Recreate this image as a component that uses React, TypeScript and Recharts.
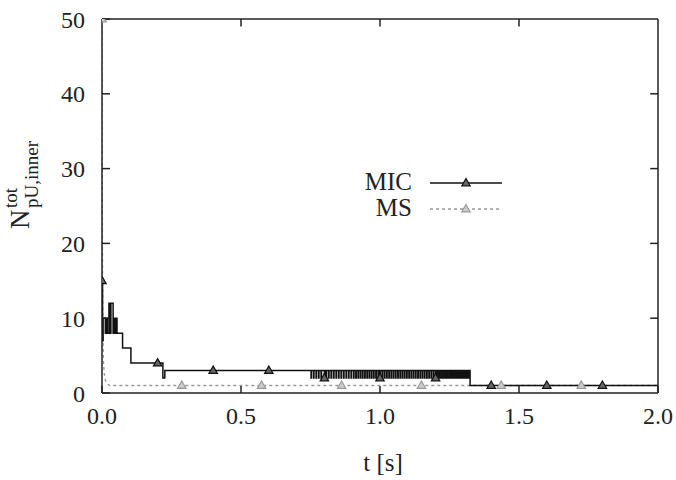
import { LineChart, Line, XAxis, YAxis, ReferenceLine } from 'recharts';

const FONT = '"Liberation Serif", "Times New Roman", serif';

// MIC: step changes (time in s, count)
const micT = [0, 0.002, 0.004, 0.012, 0.016, 0.019, 0.025, 0.03, 0.032, 0.04, 0.042, 0.047, 0.049, 0.054, 0.074, 0.104, 0.2, 0.219, 0.226, 0.4, 0.6, 0.748, 1.324, 1.4, 1.6, 1.8, 2.0];
const micN = [15, 7, 10, 8, 10, 8, 12, 8, 12, 8, 10, 8, 10, 8, 6, 4, 4, 2, 3, 3, 3, 3, 1, 1, 1, 1, 1];

// MIC: short drops from 3 to 2 between 0.75 s and 1.32 s
const micDips = [
  0.752, 0.761, 0.77, 0.779, 0.788, 0.8, 0.806, 0.815, 0.824, 0.833, 0.842, 0.851, 0.86, 0.869, 0.878,
  0.887, 0.896, 0.905, 0.913, 0.921, 0.929, 0.937, 0.945, 0.953, 0.961, 0.969, 0.977, 0.985, 0.993, 1.0,
  1.008, 1.016, 1.024, 1.032, 1.04, 1.048, 1.056, 1.064, 1.072, 1.08, 1.088, 1.096, 1.104, 1.112, 1.12,
  1.128, 1.136, 1.144, 1.152, 1.16, 1.168, 1.176, 1.184, 1.192, 1.2, 1.207, 1.214, 1.221, 1.228, 1.235,
  1.242, 1.249, 1.255, 1.261, 1.267, 1.273, 1.279, 1.284, 1.289, 1.294, 1.299, 1.304, 1.309, 1.314, 1.319,
];
const DIP_LOW = 2;
const DIP_HIGH = 3;
const DIP_W = 0.0015;
const micMarks = [0, 0.2, 0.4, 0.6, 0.8, 1.0, 1.2, 1.4, 1.6, 1.8];

// MS
const msT = [0, 0.0015, 0.003, 0.005, 0.008, 0.012, 0.018, 0.028, 0.287, 0.574, 0.862, 1.149, 1.436, 1.724, 2.0];
const msN = [50, 20, 9, 4.5, 2.6, 1.7, 1.25, 1, 1, 1, 1, 1, 1, 1, 1];
const msMarks = [0, 0.287, 0.574, 0.862, 1.149, 1.436, 1.724];

const xTicks = [0, 0.5, 1.0, 1.5, 2.0];
const yTicks = [0, 10, 20, 30, 40, 50];
const xInner = [0.5, 1.0, 1.5];
const yInner = [10, 20, 30, 40];

// inward tick length in data units (~8px)
const TICK_X = 0.028;
const TICK_Y = 1.0;

type Pt = { t: number; n: number; mark?: boolean };

function buildMic(): Pt[] {
  const pts: Pt[] = micT.map((t, i) => ({ t, n: micN[i] }));
  micDips.forEach((t) => {
    pts.push({ t, n: DIP_LOW });
    pts.push({ t: t + DIP_W, n: DIP_HIGH });
  });
  pts.sort((a, b) => a.t - b.t);
  return pts.map((p) => ({ ...p, mark: micMarks.some((m) => Math.abs(m - p.t) < 1e-9) }));
}

function buildMs(): Pt[] {
  return msT.map((t, i) => ({ t, n: msN[i], mark: msMarks.includes(t) }));
}

const micData = buildMic();
const msData = buildMs();

function Tri({ cx, cy, fill, stroke }: { cx: number; cy: number; fill: string; stroke: string }) {
  return (
    <path
      d={`M${cx},${cy - 4.5} L${cx + 4.2},${cy + 2.8} L${cx - 4.2},${cy + 2.8} Z`}
      fill={fill}
      stroke={stroke}
      strokeWidth={1.2}
    />
  );
}

const micDot = (props: any) =>
  props.payload && props.payload.mark ? (
    <Tri key={`mic-${props.index}`} cx={props.cx} cy={props.cy} fill="#666" stroke="#111" />
  ) : (
    <g key={`mic-${props.index}`} />
  );

const msDot = (props: any) =>
  props.payload && props.payload.mark ? (
    <Tri key={`ms-${props.index}`} cx={props.cx} cy={props.cy} fill="#ccc" stroke="#999" />
  ) : (
    <g key={`ms-${props.index}`} />
  );

const tickStyle = { fontSize: 24, fill: '#222', fontFamily: FONT };
const axisStroke = { stroke: '#222', strokeWidth: 1.5 };

export default function App() {
  return (
    <div style={{ position: 'absolute', left: 0, top: 0, width: 676, height: 480, background: '#fff' }}>
      <LineChart width={676} height={480} margin={{ top: 18, right: 17, bottom: 47, left: 42 }}>
        <XAxis
          xAxisId="b"
          dataKey="t"
          type="number"
          domain={[0, 2]}
          ticks={xTicks}
          tickFormatter={(v: number) => v.toFixed(1)}
          height={40}
          tick={tickStyle}
          tickSize={-7}
          tickMargin={21}
          axisLine={axisStroke}
          tickLine={axisStroke}
          allowDataOverflow
        />
        <XAxis
          xAxisId="top"
          orientation="top"
          type="number"
          domain={[0, 2]}
          ticks={xTicks}
          height={1}
          tick={false}
          tickLine={false}
          axisLine={axisStroke}
          allowDataOverflow
        />
        <YAxis
          yAxisId="l"
          type="number"
          domain={[0, 50]}
          ticks={yTicks}
          width={60}
          tick={tickStyle}
          tickSize={-8}
          tickMargin={25}
          axisLine={axisStroke}
          tickLine={axisStroke}
          allowDataOverflow
        />
        <YAxis
          yAxisId="r"
          orientation="right"
          type="number"
          domain={[0, 50]}
          ticks={yTicks}
          width={1}
          tick={false}
          tickLine={false}
          axisLine={axisStroke}
          allowDataOverflow
        />
        {xInner.map((x) => (
          <ReferenceLine
            key={`xt-${x}`}
            xAxisId="b"
            yAxisId="l"
            segment={[{ x, y: 50 }, { x, y: 50 - TICK_Y }]}
            stroke="#222"
            strokeWidth={1.5}
          />
        ))}
        {yInner.map((y) => (
          <ReferenceLine
            key={`yr-${y}`}
            xAxisId="b"
            yAxisId="l"
            segment={[{ x: 2, y }, { x: 2 - TICK_X, y }]}
            stroke="#222"
            strokeWidth={1.5}
          />
        ))}
        <Line
          xAxisId="b"
          yAxisId="l"
          data={msData}
          dataKey="n"
          type="linear"
          stroke="#999"
          strokeWidth={1.3}
          strokeDasharray="3 3"
          dot={msDot}
          activeDot={false}
          isAnimationActive={false}
        />
        <Line
          xAxisId="b"
          yAxisId="l"
          data={micData}
          dataKey="n"
          type="stepAfter"
          stroke="#111"
          strokeWidth={1.5}
          dot={micDot}
          activeDot={false}
          isAnimationActive={false}
        />
      </LineChart>
      <svg
        width={676}
        height={480}
        style={{ position: 'absolute', left: 0, top: 0, pointerEvents: 'none' }}
        fontFamily={FONT}
        fill="#222"
      >
        <text x={383} y={471} textAnchor="middle" fontSize={25}>
          t [s]
        </text>
        <text transform="translate(29,229) rotate(-90)" fontSize={27}>
          N
          <tspan x={21} y={-12} fontSize={19}>
            tot
          </tspan>
          <tspan x={21} y={9} fontSize={19}>
            pU,inner
          </tspan>
        </text>
        <text x={412} y={190} textAnchor="end" fontSize={25}>
          MIC
        </text>
        <line x1={430} x2={502} y1={183} y2={183} stroke="#111" strokeWidth={1.5} />
        <Tri cx={466} cy={183} fill="#666" stroke="#111" />
        <text x={412} y={216} textAnchor="end" fontSize={25}>
          MS
        </text>
        <line x1={430} x2={502} y1={209} y2={209} stroke="#999" strokeWidth={1.3} strokeDasharray="3 3" />
        <Tri cx={466} cy={209} fill="#ccc" stroke="#999" />
      </svg>
    </div>
  );
}
